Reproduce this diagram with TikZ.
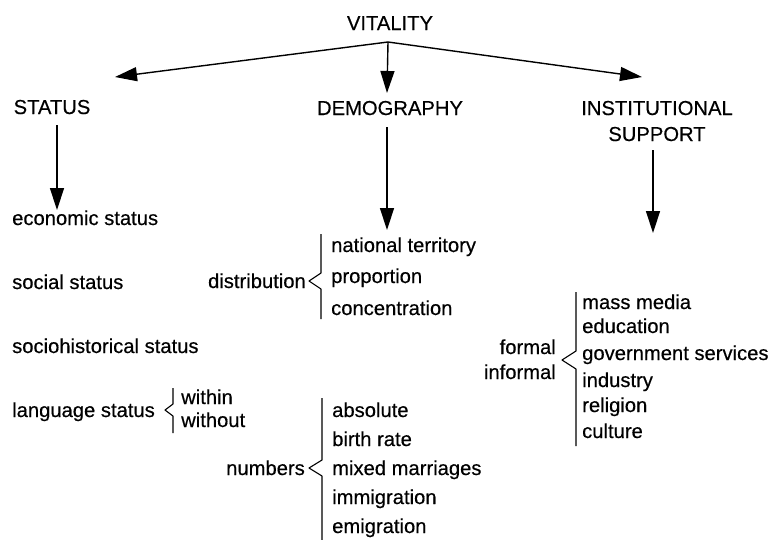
\documentclass[tikz,border=0pt]{standalone}
\usepackage{fontspec}
\setmainfont{Liberation Sans}[FakeBold=0.4]
\usetikzlibrary{arrows.meta}

\begin{document}
\begin{tikzpicture}[x=1pt,y=-1pt,
    txt/.style={inner sep=0pt,font=\fontsize{20.2}{22}\selectfont},
    item/.style={txt,anchor=base west},
    lab/.style={txt,anchor=base east},
    head/.style={txt,anchor=base,align=center},
    arr/.style={line width=1.4pt,-{Triangle[length=22pt,width=14pt]}},
    brc/.style={line width=1.1pt,line join=round}]
    \useasboundingbox (0,0) rectangle (768,539);

    % heads
    \node[head] (vit) at (390,30) {VITALITY};
    \node[head] (stat) at (52,114) {STATUS};
    \node[head] (demo) at (390,115) {DEMOGRAPHY};
    \node[head] (inst) at (657,115) {INSTITUTIONAL};
    \node[head] (supp) at (657,141) {SUPPORT};

    \coordinate (top) at (388,42);
    \coordinate (tl) at (115,77);
    \coordinate (tm) at (387,93);
    \coordinate (tr) at (642,77);
    \draw[arr] (top)--(tl);
    \draw[arr] (top)--(tm);
    \draw[arr] (top)--(tr);

    \coordinate (s1) at (57,125);
    \coordinate (s2) at (57,210);
    \coordinate (d1) at (387,127);
    \coordinate (d2) at (387,230);
    \coordinate (i1) at (653,150);
    \coordinate (i2) at (653,233);
    \foreach \a/\b in {s1/s2,d1/d2,i1/i2}{
        \draw[arr] (\a)--(\b);
    }

    % status
    \node[item] (econ) at (12,225) {economic status};
    \node[item] (social) at (12,289) {social status};
    \node[item] (sociohist) at (12,353) {sociohistorical status};
    \node[item] (lang) at (12,417) {language status};
    \node[item] (within) at (181,404) {within};
    \node[item] (without) at (181,427) {without};
    \draw[brc] (173,388)--(173,404)--(165,410)--(173,416)--(173,433);

    % demography
    \node[lab] (distr) at (306,288) {distribution};
    \node[item] (natter) at (331,252) {national territory};
    \node[item] (prop) at (331,283) {proportion};
    \node[item] (conc) at (331,315) {concentration};
    \draw[brc] (321,234)--(321,273)--(309,281)--(321,289)--(321,319);

    \node[lab] (numb) at (305,475) {numbers};
    \foreach \n/\t/\y in {abs/absolute/417,birth/birth rate/446,mixed/mixed marriages/475,immig/immigration/504,emig/emigration/533}{
        \node[item] (\n) at (332,\y) {\t};
    }
    \draw[brc] (322,398)--(322,460)--(309,468)--(322,476)--(322,545);

    % institutional support
    \node[lab] (formal) at (556,354) {formal};
    \node[lab] (informal) at (556,379) {informal};
    \foreach \n/\t/\y in {mass/mass media/309,educ/education/333,gov/government services/360,ind/industry/387,rel/religion/412,cult/culture/438}{
        \node[item] (\n) at (582,\y) {\t};
    }
    \draw[brc] (576,292)--(576,351)--(562,360)--(576,369)--(576,446);
\end{tikzpicture}
\end{document}
